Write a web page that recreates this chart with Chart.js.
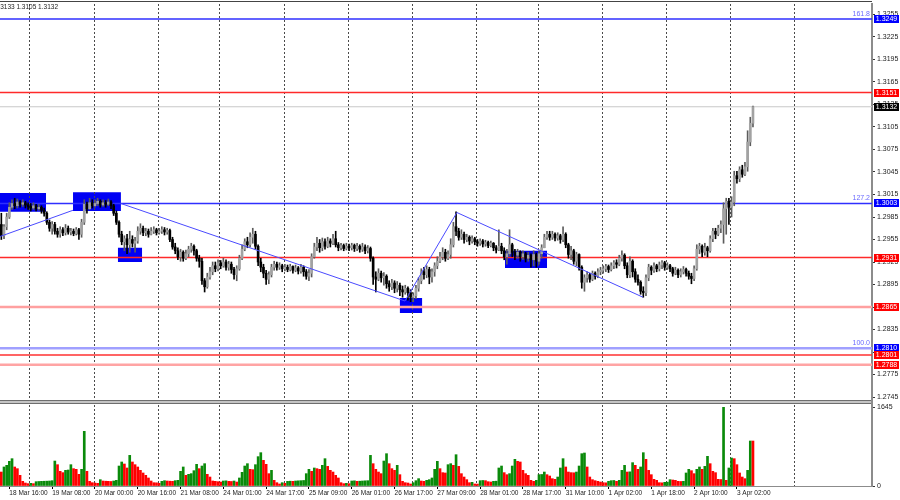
<!DOCTYPE html>
<html>
<head>
<meta charset="utf-8">
<script src="https://cdn.jsdelivr.net/npm/chart.js@4.4.1/dist/chart.umd.min.js"></script>
<style>
  html, body { margin: 0; padding: 0; background: #fff; overflow: hidden; }
  #wrap { position: relative; width: 900px; height: 500px; }
  canvas { position: absolute; left: 0; }
  #priceChart { top: 0; }
  #volChart { top: 400px; }
</style>
</head>
<body>
<div id="wrap">
  <canvas id="priceChart" width="900" height="400"></canvas>
  <canvas id="volChart" width="900" height="100"></canvas>
</div>
<script>
// hourly sessions shown on the chart: [day, first hour, last hour]
const sessions = [
  ["18 Mar", 13, 23], ["19 Mar", 0, 23], ["20 Mar", 0, 23], ["21 Mar", 0, 22],
  ["24 Mar", 0, 23], ["25 Mar", 0, 23], ["26 Mar", 0, 23], ["27 Mar", 0, 23], ["28 Mar", 0, 22],
  ["31 Mar", 0, 23], ["1 Apr", 0, 23], ["2 Apr", 0, 23], ["3 Apr", 0, 23], ["4 Apr", 0, 23]
];
const visibleBars = 326;
const labelStep = 16, labelFirst = 3;

// prices in points: 2931 = 1.2931
const firstOpen = 2975;
const closes = [
  2960,2972,2985,2998,3003,3000,3005,3002,3004,3001,2999,
  2997,3000,2996,2998,2994,2990,2978,2970,2975,2966,2962,2968,2964,2970,2965,2966,2963,2968,2962,2978,3002,2996,3004,3000,
  3003,3006,3001,3004,3002,3005,3000,2990,2978,2962,2952,2956,2948,2955,2950,2953,2966,2970,2964,2966,2962,2966,2968,2964,
  2966,2968,2965,2967,2955,2945,2940,2932,2938,2930,2936,2942,2946,2940,2930,2926,2900,2892,2905,2912,2920,2916,2924,2920,
  2925,2918,2922,2915,2908,2916,2930,2942,2952,2948,2958,2962,2946,2925,2918,2910,2902,2908,2918,2922,2918,2920,2916,
  2918,2915,2919,2914,2917,2913,2918,2912,2906,2910,2932,2945,2950,2944,2952,2946,2953,2950,2956,2948,2944,2947,2943,2946,
  2944,2947,2943,2946,2942,2945,2940,2943,2930,2905,2902,2910,2904,2906,2896,2892,2897,2890,2894,2888,2885,2890,2884,2878,
  2880,2890,2900,2912,2908,2915,2905,2912,2920,2926,2932,2938,2930,2935,2948,2972,2966,2958,2962,2955,2958,2953,2956,2952,
  2950,2953,2949,2951,2947,2950,2944,2941,2946,2940,2932,2936,2948,2938,2934,2938,2932,2936,2930,2934,2928,2935,2926,2936,
  2944,2958,2962,2958,2962,2957,2960,2955,2962,2948,2935,2940,2926,2935,2918,2898,2904,2908,2902,2910,2906,2912,2914,
  2916,2919,2915,2920,2924,2922,2930,2934,2920,2908,2926,2912,2902,2898,2886,2884,2904,2918,2914,2920,2916,2921,2924,2918,
  2920,2916,2910,2914,2908,2912,2915,2910,2906,2903,2916,2942,2946,2938,2944,2940,2956,2966,2962,2970,2975,2996,3006,2998,
  3005,3040,3036,3048,3042,3052,3085,3110,3132
];
const highs = [
  2990,2975,2990,3004,3008,3010,3009,3007,3008,3006,3004,
  3003,3004,3002,3002,3000,2997,2992,2981,2979,2978,2970,2972,2971,2975,2973,2970,2969,2971,2970,2982,3008,3005,3010,3008,
  3008,3010,3008,3008,3007,3009,3007,3002,2993,2980,2966,2960,2962,2966,2960,2958,2972,2976,2973,2970,2969,2971,2972,2970,
  2970,2972,2971,2970,2969,2958,2950,2944,2942,2940,2941,2946,2950,2948,2942,2934,2930,2903,2910,2918,2925,2925,2928,2927,
  2930,2928,2926,2925,2918,2920,2934,2948,2956,2958,2964,2970,2966,2948,2930,2922,2914,2912,2922,2926,2925,2924,2922,
  2922,2921,2922,2920,2921,2919,2922,2920,2915,2915,2936,2950,2958,2955,2957,2956,2958,2956,2962,2966,2951,2950,2949,2950,
  2949,2950,2949,2950,2948,2950,2948,2947,2945,2932,2912,2916,2913,2911,2908,2900,2902,2900,2899,2897,2893,2894,2892,2888,
  2884,2894,2904,2916,2918,2920,2918,2916,2924,2932,2938,2944,2942,2940,2956,2978,2992,2970,2968,2965,2962,2960,2960,2958,
  2955,2956,2955,2954,2953,2953,2951,2947,2968,2950,2944,2942,2968,2950,2942,2942,2940,2940,2938,2938,2936,2940,2937,2940,
  2948,2962,2966,2966,2966,2964,2964,2962,2972,2964,2950,2946,2942,2938,2936,2920,2908,2912,2910,2913,2912,2916,2918,
  2920,2922,2921,2924,2927,2928,2934,2940,2936,2924,2932,2928,2916,2908,2900,2892,2908,2922,2920,2924,2922,2925,2927,2926,
  2924,2922,2918,2918,2916,2916,2919,2917,2913,2910,2920,2948,2950,2948,2950,2946,2960,2970,2970,2974,2980,3004,3010,3010,
  3012,3046,3046,3052,3054,3058,3100,3118,3133
];
const lows = [
  2955,2956,2968,2983,2995,2996,2997,2998,2999,2997,2995,
  2993,2995,2993,2994,2990,2986,2975,2966,2962,2962,2958,2958,2960,2961,2962,2961,2960,2961,2955,2958,2975,2990,2995,2997,
  2998,3000,2998,2999,2998,3000,2996,2987,2975,2958,2948,2940,2936,2938,2945,2938,2950,2962,2960,2960,2958,2961,2963,2961,
  2962,2963,2961,2962,2952,2942,2936,2928,2926,2926,2928,2932,2938,2934,2926,2918,2895,2885,2890,2902,2908,2912,2913,2916,
  2918,2914,2914,2910,2902,2900,2914,2928,2940,2944,2945,2950,2942,2920,2912,2904,2895,2896,2905,2914,2914,2915,2912,
  2913,2912,2913,2910,2912,2909,2910,2906,2902,2900,2905,2930,2940,2938,2940,2942,2944,2945,2948,2945,2940,2941,2940,2941,
  2940,2941,2939,2940,2938,2939,2936,2937,2926,2895,2885,2900,2898,2894,2890,2886,2888,2884,2885,2880,2878,2882,2874,2872,
  2872,2876,2886,2896,2902,2904,2896,2898,2906,2916,2924,2928,2926,2928,2930,2945,2960,2954,2955,2950,2952,2948,2950,2948,
  2946,2947,2945,2946,2944,2945,2940,2937,2940,2936,2928,2922,2933,2932,2928,2930,2926,2928,2925,2926,2918,2920,2918,2922,
  2930,2944,2955,2954,2955,2953,2954,2950,2952,2944,2930,2928,2922,2920,2914,2890,2886,2898,2898,2900,2902,2904,2908,
  2910,2912,2911,2913,2916,2917,2920,2926,2916,2904,2904,2905,2898,2894,2882,2878,2880,2900,2908,2911,2912,2913,2916,2914,
  2915,2912,2906,2908,2904,2905,2909,2906,2902,2896,2900,2914,2936,2932,2934,2932,2938,2952,2956,2960,2964,2950,2962,2975,
  2985,3000,3030,3032,3038,3040,3046,3080,3105
];
const volumes = [
  291,396,430,514,569,396,361,222,97,62,49,56,49,90,94,97,99,101,104,111,
  520,444,305,278,326,333,444,361,347,243,347,1138,305,97,69,62,56,132,104,100,
  97,94,104,118,416,500,458,375,638,500,444,396,326,271,222,167,104,69,66,56,
  97,111,104,100,97,111,118,305,396,222,243,257,319,451,361,416,465,243,187,104,
  97,90,83,104,108,97,94,104,83,167,285,416,465,347,340,444,611,694,534,451,
  257,326,118,69,42,69,56,97,100,97,104,108,111,115,257,347,305,375,361,347,
  430,569,409,326,291,222,167,69,49,56,49,104,108,97,100,104,108,111,638,465,
  347,291,257,520,673,465,361,326,430,236,97,69,62,42,69,111,153,104,97,118,
  132,167,347,514,361,278,271,444,465,430,652,409,257,187,132,69,76,42,40,111,
  115,111,90,83,97,100,375,416,278,236,257,416,555,514,500,326,257,222,118,97,
  118,236,240,291,236,208,153,139,187,375,569,396,291,278,275,291,416,673,687,396,
  187,132,111,97,83,69,66,97,111,115,97,118,326,430,291,295,486,430,347,396,
  694,555,326,236,139,118,69,66,76,80,132,125,118,97,94,97,271,347,319,257,
  347,396,347,409,618,465,305,278,139,135,1645,118,375,583,569,444,271,187,153,326,
  937,937
];
const priceTicks = [2745,2775,2805,2835,2865,2895,2925,2955,2985,3015,3045,3075,3105,3135,3165,3195,3225,3255];
const priceMin = 2741, priceMax = 3269;
const volTicks = [0, 1645];

// horizontal levels and their tags
const levels = [3249, 3151, 3132, 3003, 2931, 2865, 2810, 2801, 2788];
const levelColors = ["#2f2fff", "#ff2a2a", "#c8c8c8", "#2f2fff", "#ff2a2a", "#ffa0a0", "#a0a0ff", "#ff3030", "#ffa4a4"];
const levelWidths = [1.4, 1.4, 1.2, 1.4, 1.4, 2.4, 2.4, 1.4, 2.4];
const tagColors = ["#0000ff", "#ff0000", "#000000", "#0000ff", "#ff0000", "#ff0000", "#0000ff", "#ff0000", "#ff0000"];
const fibLabels = ["161.8", "", "", "127.2", "", "", "100.0", "", ""];

// blue zones [from bar, to bar, low, high] and trend lines [bar, price, bar, price]
const zones = [[-0.5, 16.7, 2992, 3017], [26.8, 44.7, 2993, 3018], [43.6, 52.6, 2925, 2944], [149, 157.3, 2857, 2877], [188.3, 204, 2917, 2940]];
const trends = [[-0.5, 2959, 26.8, 2994], [44.7, 3003, 150.9, 2873], [150.9, 2873, 170.3, 2991], [170.3, 2991, 239.9, 2878]];

const px = v => 1 + v / 10000;

const times = [];
sessions.forEach(([d, h0, h1]) => {
  for (let h = h0; h <= h1; h++) times.push(d + " " + String(h).padStart(2, "0") + ":00");
});
times.length = Math.min(times.length, visibleBars);
while (times.length < visibleBars) times.push("");

const opens = closes.map((c, i) => (i === 0 ? firstOpen : closes[i - 1]));
const bodies = closes.map((c, i) => [px(opens[i]), px(c)]);
const wicks = closes.map((c, i) => [px(Math.min(lows[i], opens[i], c)), px(Math.max(highs[i], opens[i], c))]);
const isUp = closes.map((c, i) => c >= opens[i]);
const volColors = volumes.map((v, i) => (i > 0 && v > volumes[i - 1] ? "#0a8a0a" : "#ff0000"));

const fontFamily = '"Liberation Sans Narrow", "Liberation Sans", sans-serif';
const axisFont = { family: fontFamily, size: 7 };
const dateFont = { family: fontFamily, size: 6.5 };
const dayOf = s => s.split(" ").slice(0, 2).join(" ");
const hasDateLabel = i => i % labelStep === labelFirst && i < closes.length;

// keep the plot area fixed: no extra room for half tick labels
function fixAxis(width) {
  return a => {
    a.width = width;
    a.paddingTop = 0;
    a.paddingBottom = 0;
  };
}

function drawDayLines(chart, top) {
  const { ctx, chartArea, scales } = chart;
  ctx.save();
  ctx.strokeStyle = "#4a4a4a";
  ctx.lineWidth = 1;
  ctx.setLineDash([2, 2]);
  for (let i = 1; i < times.length; i++) {
    if (!times[i] || !times[i - 1] || dayOf(times[i]) === dayOf(times[i - 1])) continue;
    const xx = Math.round(scales.x.getPixelForValue(i - 0.5)) + 0.5;
    ctx.beginPath();
    ctx.moveTo(xx, top);
    ctx.lineTo(xx, chartArea.bottom);
    ctx.stroke();
  }
  ctx.restore();
}

const priceDecor = {
  id: "priceDecor",
  beforeDatasetsDraw(chart) {
    const { ctx, chartArea, scales: { x, y } } = chart;
    ctx.save();
    ctx.fillStyle = "#0000f4";
    zones.forEach(([i0, i1, p0, p1]) => {
      const x0 = x.getPixelForValue(i0), x1 = x.getPixelForValue(i1);
      const y0 = y.getPixelForValue(px(p1)), y1 = y.getPixelForValue(px(p0));
      ctx.fillRect(x0, y0, x1 - x0, y1 - y0);
    });
    ctx.restore();
    drawDayLines(chart, chartArea.top);
    ctx.save();
    levels.forEach((v, k) => {
      const yy = y.getPixelForValue(px(v));
      ctx.strokeStyle = levelColors[k];
      ctx.lineWidth = levelWidths[k];
      ctx.beginPath();
      ctx.moveTo(chartArea.left, yy);
      ctx.lineTo(chartArea.right, yy);
      ctx.stroke();
    });
    ctx.restore();
  },
  afterDatasetsDraw(chart) {
    const { ctx, scales: { x, y } } = chart;
    ctx.save();
    ctx.strokeStyle = "#4a4aff";
    ctx.lineWidth = 1;
    trends.forEach(([i0, p0, i1, p1]) => {
      ctx.beginPath();
      ctx.moveTo(x.getPixelForValue(i0), y.getPixelForValue(px(p0)));
      ctx.lineTo(x.getPixelForValue(i1), y.getPixelForValue(px(p1)));
      ctx.stroke();
    });
    ctx.restore();
  },
  afterDraw(chart) {
    const { ctx, chartArea, scales: { y } } = chart;
    ctx.save();
    ctx.font = "7px " + fontFamily;
    ctx.textBaseline = "middle";
    levels.forEach((v, k) => {
      const yy = Math.round(y.getPixelForValue(px(v)));
      ctx.fillStyle = tagColors[k];
      ctx.fillRect(chartArea.right + 2, yy - 4, 25, 8);
      ctx.fillStyle = "#fff";
      ctx.textAlign = "center";
      ctx.fillText(px(v).toFixed(4), chartArea.right + 14.5, yy);
      if (fibLabels[k]) {
        ctx.fillStyle = "#6a6aff";
        ctx.textAlign = "right";
        ctx.fillText(fibLabels[k], chartArea.right - 2, yy - 5);
      }
    });
    ctx.fillStyle = "#444";
    ctx.fillRect(0, 1, chartArea.right, 1);
    ctx.font = "6.5px " + fontFamily;
    ctx.fillStyle = "#222";
    ctx.textAlign = "right";
    ctx.fillText("1.3110 1.3133 1.3105 1.3132", 58, 7);
    ctx.restore();
  }
};

const volDecor = {
  id: "volDecor",
  beforeDatasetsDraw(chart) {
    drawDayLines(chart, 5);
  },
  afterDraw(chart) {
    const { ctx, chartArea } = chart;
    ctx.save();
    ctx.fillStyle = "#6e6e6e";
    ctx.fillRect(0, 0, chartArea.right, 1);
    ctx.fillRect(0, 3, chartArea.right, 1);
    ctx.fillStyle = "#c4c4c4";
    ctx.fillRect(0, 1, chartArea.right, 2);
    ctx.fillStyle = "#8c8c8c";
    ctx.fillRect(chartArea.right - 1, 0, 2, chartArea.bottom);
    ctx.restore();
  }
};

new Chart(document.getElementById("priceChart").getContext("2d"), {
  type: "bar",
  data: {
    labels: times,
    datasets: [
      {
        label: "body",
        data: bodies,
        backgroundColor: isUp.map(u => (u ? "#a2a2a2" : "#000000")),
        barThickness: 2,
        minBarLength: 1,
        grouped: false,
      },
      {
        label: "wick",
        data: wicks,
        backgroundColor: isUp.map(u => (u ? "#5c5c5c" : "#000000")),
        barThickness: 1,
        grouped: false,
      },
    ],
  },
  options: {
    responsive: false,
    animation: false,
    layout: { padding: { top: 4, left: 0, right: 0, bottom: 0 } },
    plugins: { legend: { display: false }, tooltip: { enabled: false } },
    scales: {
      x: { display: false, offset: true },
      y: {
        position: "right",
        min: px(priceMin),
        max: px(priceMax),
        afterBuildTicks: a => { a.ticks = priceTicks.map(v => ({ value: px(v) })); },
        afterFit: fixAxis(28),
        ticks: { font: axisFont, color: "#222", padding: 2, callback: v => v.toFixed(4) },
        grid: { drawOnChartArea: false, tickLength: 3, color: "#333" },
        border: { color: "#8c8c8c", width: 2 },
      },
    },
  },
  plugins: [priceDecor],
});

new Chart(document.getElementById("volChart").getContext("2d"), {
  type: "bar",
  data: {
    labels: times,
    datasets: [
      {
        label: "volume",
        data: volumes,
        backgroundColor: volColors,
        barThickness: 2,
      },
    ],
  },
  options: {
    responsive: false,
    animation: false,
    layout: { padding: { top: 7, left: 0, right: 0, bottom: 0 } },
    plugins: { legend: { display: false }, tooltip: { enabled: false } },
    scales: {
      x: {
        offset: true,
        afterFit: a => { a.height = 14; a.paddingLeft = 0; a.paddingRight = 0; },
        ticks: {
          autoSkip: false,
          maxRotation: 0,
          align: "start",
          padding: 0,
          font: dateFont,
          color: "#222",
          callback: (v, i) => (hasDateLabel(i) ? times[i] : ""),
        },
        grid: {
          offset: false,
          drawOnChartArea: false,
          tickLength: 3,
          tickColor: c => (hasDateLabel(c.index) ? "#000" : "rgba(0,0,0,0)"),
        },
        border: { color: "#8c8c8c" },
      },
      y: {
        position: "right",
        min: 0,
        max: 1645,
        afterBuildTicks: a => { a.ticks = volTicks.map(v => ({ value: v })); },
        afterFit: fixAxis(28),
        ticks: { font: axisFont, color: "#222", padding: 2, callback: v => String(v) },
        grid: { drawOnChartArea: false, tickLength: 3, color: "#333" },
        border: { color: "#8c8c8c", width: 2 },
      },
    },
  },
  plugins: [volDecor],
});
</script>
</body>
</html>
